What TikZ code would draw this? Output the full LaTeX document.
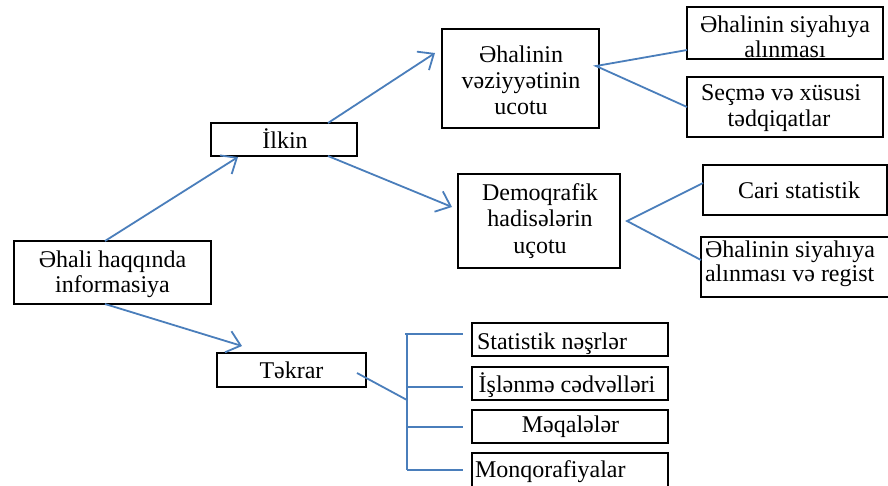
\documentclass[tikz,border=0pt]{standalone}
\usepackage{fontspec}
\setmainfont{Liberation Serif}
\usetikzlibrary{arrows.meta}
\definecolor{lnblue}{HTML}{4A7EBB}
\begin{document}
\begin{tikzpicture}[x=1pt,y=-1pt,
  box/.style={draw=black, line width=1.2pt, inner sep=0pt, outer sep=0pt},
  txt/.style={anchor=base, inner sep=0pt, outer sep=0pt, font=\fontsize{24}{26}\selectfont},
  txtw/.style={txt, anchor=base west},
  conn/.style={draw=lnblue, line width=1.8pt},
  arr/.style={conn, -{Straight Barb[length=13pt,width=22pt]}}]
\useasboundingbox (0,0) rectangle (888,485);
\clip (0,0) rectangle (888,485);
\fill[white] (0,0) rectangle (888,485);

% boxes
\node[box, minimum width=197pt, minimum height=63pt] (main) at (112.5,272.5) {};
\node[txt] (mainA) at (112.5,267) {Əhali haqqında};
\node[txt] (mainB) at (112.5,292) {informasiya};

\node[box, minimum width=146pt, minimum height=33pt] (ilkin) at (284,139.5) {};
\node[txt] (ilkinA) at (285,148) {İlkin};

\node[box, minimum width=157pt, minimum height=99pt] (vez) at (520.5,78.5) {};
\node[txt] (vezA) at (521,62) {Əhalinin};
\node[txt] (vezB) at (521,88) {vəziyyətinin};
\node[txt] (vezC) at (521,114) {ucotu};

\node[box, minimum width=196pt, minimum height=52pt] (tr1) at (785,33) {};
\node[txt] (tr1A) at (785,32) {Əhalinin siyahıya};
\node[txt] (tr1B) at (785,57) {alınması};

\node[box, minimum width=196pt, minimum height=60pt] (tr2) at (785,107) {};
\node[txt] (tr2A) at (781,100) {Seçmə və xüsusi};
\node[txt] (tr2B) at (779,126) {tədqiqatlar};

\node[box, minimum width=162pt, minimum height=94pt] (dem) at (539,221) {};
\node[txt] (demA) at (540,200) {Demoqrafik};
\node[txt] (demB) at (540,226) {hadisələrin};
\node[txt] (demC) at (540,253) {uçotu};

\node[box, minimum width=184pt, minimum height=50pt] (cari) at (795,190) {};
\node[txt] (cariA) at (799,198) {Cari statistik};

\node[box, minimum width=259pt, minimum height=60pt] (reg) at (830.5,267) {};
\node[txtw] (regA) at (705,257) {Əhalinin siyahıya};
\node[txtw] (regB) at (705,281) {alınması və regist};

\node[box, minimum width=149pt, minimum height=34pt] (tekrar) at (291.5,370) {};
\node[txt] (tekrarA) at (291.5,378) {Təkrar};

\node[box, minimum width=196pt, minimum height=33pt] (s1) at (570,339.5) {};
\node[txtw] (s1A) at (477,349) {Statistik nəşrlər};
\node[box, minimum width=196pt, minimum height=33pt] (s2) at (570,383.5) {};
\node[txt] (s2A) at (567,392.5) {İşlənmə cədvəlləri};
\node[box, minimum width=196pt, minimum height=33pt] (s3) at (570,426.5) {};
\node[txt] (s3A) at (570.5,432) {Məqalələr};
\node[box, minimum width=196pt, minimum height=37pt] (s4) at (570,471.5) {};
\node[txtw] (s4A) at (475,477) {Monqorafiyalar};

% connectors with arrows
\draw[arr] ([xshift=-7.5pt]main.north) -- ([xshift=-46pt,yshift=-1pt]ilkin.south);
\draw[arr] ([xshift=44pt]ilkin.north) -- ([xshift=-7pt,yshift=25.5pt]vez.west);
\draw[arr] ([xshift=44pt]ilkin.south) -- ([xshift=-6pt,yshift=14pt]dem.west);
\draw[arr] ([xshift=-7.5pt]main.south) -- ([xshift=-49.5pt,yshift=7pt]tekrar.north);

% fan lines
\coordinate (vf) at ([xshift=-3pt,yshift=12.5pt]vez.east);
\draw[conn] ([yshift=-17pt]tr1.west) -- (vf) -- (tr2.west);
\coordinate (df) at ([xshift=7pt]dem.east);
\draw[conn] ([yshift=7pt]cari.west) -- (df) -- ([yshift=7pt]reg.west);

% bracket
\coordinate (bk) at (407,400);
\coordinate (k1) at ([xshift=-9pt,yshift=5.5pt]s1.west);
\coordinate (k2) at ([xshift=-9pt,yshift=-3.5pt]s2.west);
\coordinate (k3) at ([xshift=-9pt,yshift=-0.5pt]s3.west);
\coordinate (k4) at ([xshift=-9pt,yshift=1.5pt]s4.west);
\draw[conn] ([xshift=-9pt,yshift=-3pt]tekrar.east) -- (bk);
\draw[conn] (k1 -| bk) -- (k4 -| bk);
\draw[conn] ([xshift=-2pt]k1 -| bk) -- (k1);
\draw[conn] (k2 -| bk) -- (k2);
\draw[conn] (k3 -| bk) -- (k3);
\draw[conn] (k4 -| bk) -- (k4);
\end{tikzpicture}
\end{document}
